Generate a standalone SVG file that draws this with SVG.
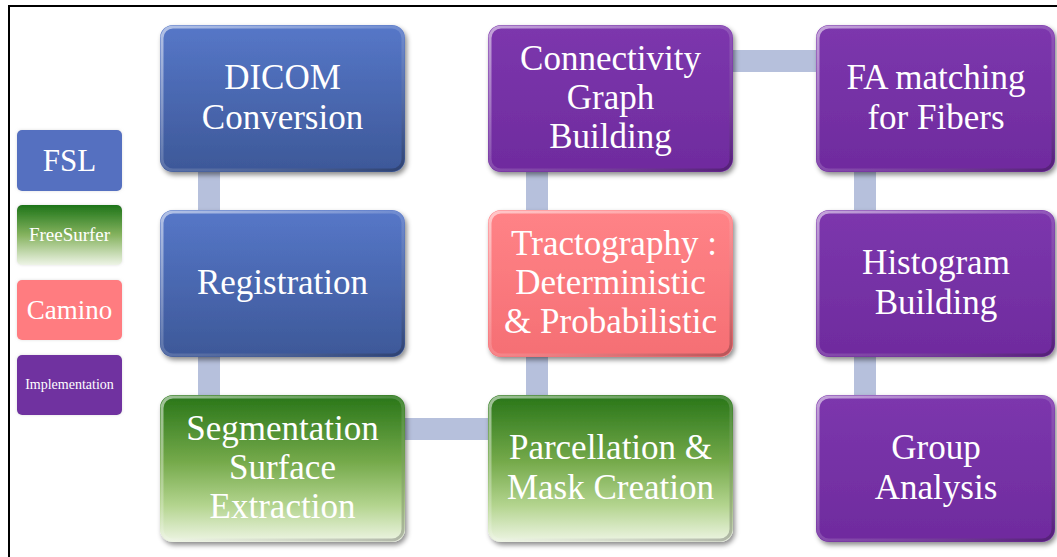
<svg xmlns="http://www.w3.org/2000/svg" width="1057" height="557" viewBox="0 0 1057 557">
  <defs>
    <linearGradient id="gBlue" x1="0" y1="0" x2="0" y2="1">
      <stop offset="0" stop-color="#5677c8"/>
      <stop offset="1" stop-color="#3d5898"/>
    </linearGradient>
    <linearGradient id="gPurple" x1="0" y1="0" x2="0" y2="1">
      <stop offset="0" stop-color="#7c37ad"/>
      <stop offset="1" stop-color="#6f2b9e"/>
    </linearGradient>
    <linearGradient id="gSalmon" x1="0" y1="0" x2="0" y2="1">
      <stop offset="0" stop-color="#ff8387"/>
      <stop offset="1" stop-color="#f56f74"/>
    </linearGradient>
    <linearGradient id="gGreen" x1="0" y1="0" x2="0" y2="1">
      <stop offset="0" stop-color="#287518"/>
      <stop offset="0.45" stop-color="#74a94a"/>
      <stop offset="0.75" stop-color="#b3d48e"/>
      <stop offset="1" stop-color="#eef5e4"/>
    </linearGradient>
    <linearGradient id="gLegGreen" x1="0" y1="0" x2="0" y2="1">
      <stop offset="0" stop-color="#1d7418"/>
      <stop offset="0.5" stop-color="#86b35f"/>
      <stop offset="1" stop-color="#eef4e6"/>
    </linearGradient>
    <linearGradient id="gBevel" x1="0" y1="0" x2="1" y2="1">
      <stop offset="0" stop-color="#ffffff" stop-opacity="0.55"/>
      <stop offset="0.5" stop-color="#ffffff" stop-opacity="0.15"/>
      <stop offset="1" stop-color="#000000" stop-opacity="0.25"/>
    </linearGradient>
    <filter id="shadow" x="-10%" y="-10%" width="125%" height="130%">
      <feDropShadow dx="2" dy="3" stdDeviation="2.5" flood-color="#000" flood-opacity="0.45"/>
    </filter>
    <filter id="glow" x="-10%" y="-10%" width="120%" height="120%">
      <feDropShadow dx="0" dy="0" stdDeviation="1.5" flood-color="#c8c8c8" flood-opacity="0.6"/>
    </filter>
  </defs>
  <style>
    .box { stroke: none; filter: url(#shadow); }
    .bevel { fill: none; stroke: url(#gBevel); stroke-width: 3; }
    .lbl { font-family: "Liberation Serif", "DejaVu Serif", serif; font-size: 35px; fill: #ffffff; text-anchor: middle; }
    .leg { filter: url(#glow); }
    .legtxt { font-family: "Liberation Serif", "DejaVu Serif", serif; fill: #ffffff; text-anchor: middle; }
    .conn { fill: #b6c0dc; }
  </style>

  <rect x="0" y="0" width="1057" height="557" fill="#ffffff"/>
  <path d="M9 557 V6 H1057" fill="none" stroke="#000000" stroke-width="2"/>

  <g id="connectors">
    <rect class="conn" x="198" y="160" width="22" height="60"/>
    <rect class="conn" x="198" y="345" width="22" height="60"/>
    <rect class="conn" x="395" y="418" width="103" height="22"/>
    <rect class="conn" x="526" y="345" width="22" height="60"/>
    <rect class="conn" x="526" y="160" width="22" height="60"/>
    <rect class="conn" x="723" y="50" width="103" height="22"/>
    <rect class="conn" x="854" y="160" width="22" height="60"/>
    <rect class="conn" x="854" y="345" width="22" height="60"/>
  </g>

  <g id="legend-fsl">
    <rect class="leg" x="17" y="130" width="105" height="61" rx="5" fill="#5470c0"/>
    <text class="legtxt" x="69.5" y="171" font-size="31">FSL</text>
  </g>
  <g id="legend-freesurfer">
    <rect class="leg" x="17" y="205" width="105" height="60" rx="5" fill="url(#gLegGreen)"/>
    <text class="legtxt" x="69.5" y="241" font-size="19" fill="#f2f7e6">FreeSurfer</text>
  </g>
  <g id="legend-camino">
    <rect class="leg" x="17" y="280" width="105" height="60" rx="5" fill="#ff7b80"/>
    <text class="legtxt" x="69.5" y="319" font-size="27">Camino</text>
  </g>
  <g id="legend-implementation">
    <rect class="leg" x="17" y="355" width="105" height="60" rx="5" fill="#7030a0"/>
    <text class="legtxt" x="69.5" y="389" font-size="14">Implementation</text>
  </g>

  <g id="node-dicom">
    <rect class="box" x="160" y="25" width="245" height="147" rx="13" fill="url(#gBlue)"/>
    <rect class="bevel" x="162" y="27" width="241" height="143" rx="11"/>
    <text class="lbl" x="282.5" y="89">DICOM</text>
    <text class="lbl" x="282.5" y="129">Conversion</text>
  </g>
  <g id="node-registration">
    <rect class="box" x="160" y="210" width="245" height="147" rx="13" fill="url(#gBlue)"/>
    <rect class="bevel" x="162" y="212" width="241" height="143" rx="11"/>
    <text class="lbl" x="282.5" y="294">Registration</text>
  </g>
  <g id="node-segmentation">
    <rect class="box" x="160" y="395" width="245" height="147" rx="13" fill="url(#gGreen)"/>
    <rect class="bevel" x="162" y="397" width="241" height="143" rx="11"/>
    <text class="lbl" x="282.5" y="440">Segmentation</text>
    <text class="lbl" x="282.5" y="479">Surface</text>
    <text class="lbl" x="282.5" y="518">Extraction</text>
  </g>
  <g id="node-connectivity">
    <rect class="box" x="488" y="25" width="245" height="147" rx="13" fill="url(#gPurple)"/>
    <rect class="bevel" x="490" y="27" width="241" height="143" rx="11"/>
    <text class="lbl" x="610.5" y="70">Connectivity</text>
    <text class="lbl" x="610.5" y="109">Graph</text>
    <text class="lbl" x="610.5" y="148">Building</text>
  </g>
  <g id="node-tractography">
    <rect class="box" x="488" y="210" width="245" height="147" rx="13" fill="url(#gSalmon)"/>
    <rect class="bevel" x="490" y="212" width="241" height="143" rx="11"/>
    <text class="lbl" x="614" y="255">Tractography :</text>
    <text class="lbl" x="610.5" y="294">Deterministic</text>
    <text class="lbl" x="610.5" y="333">&amp; Probabilistic</text>
  </g>
  <g id="node-parcellation">
    <rect class="box" x="488" y="395" width="245" height="147" rx="13" fill="url(#gGreen)"/>
    <rect class="bevel" x="490" y="397" width="241" height="143" rx="11"/>
    <text class="lbl" x="610.5" y="459">Parcellation &amp;</text>
    <text class="lbl" x="610.5" y="499">Mask Creation</text>
  </g>
  <g id="node-fa">
    <rect class="box" x="816" y="25" width="239" height="147" rx="13" fill="url(#gPurple)"/>
    <rect class="bevel" x="818" y="27" width="235" height="143" rx="11"/>
    <text class="lbl" x="936" y="89">FA matching</text>
    <text class="lbl" x="936" y="129">for Fibers</text>
  </g>
  <g id="node-histogram">
    <rect class="box" x="816" y="210" width="239" height="147" rx="13" fill="url(#gPurple)"/>
    <rect class="bevel" x="818" y="212" width="235" height="143" rx="11"/>
    <text class="lbl" x="936" y="274">Histogram</text>
    <text class="lbl" x="936" y="314">Building</text>
  </g>
  <g id="node-group">
    <rect class="box" x="816" y="395" width="239" height="147" rx="13" fill="url(#gPurple)"/>
    <rect class="bevel" x="818" y="397" width="235" height="143" rx="11"/>
    <text class="lbl" x="936" y="459">Group</text>
    <text class="lbl" x="936" y="499">Analysis</text>
  </g>
</svg>
